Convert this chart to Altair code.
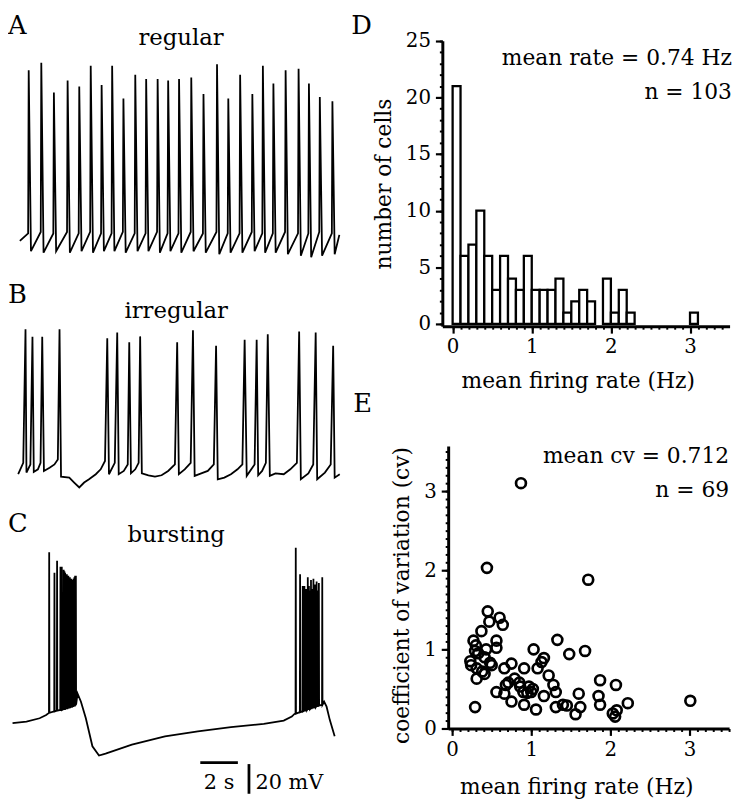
import altair as alt
import pandas as pd

FONT = "DejaVu Serif"

# ---------------- A: regular firing (time in s, voltage in mV) ----------------
A_spike_t = [0.47, 1.14, 1.81, 2.54, 3.16, 3.77, 4.35, 4.91, 5.51, 6.14, 6.72, 7.33, 7.89, 8.47,
             9.12, 9.77, 10.49, 11.09, 11.72, 12.37, 12.93, 13.49, 14.14, 14.83, 15.38, 15.96, 16.63]
A_spike_v = [111, 116, 96, 104, 100, 114, 101, 114, 92, 108, 105, 105, 104, 105,
             106, 95, 115, 92, 108, 95, 114, 102, 111, 112, 102, 93, 90]
A_pre_v = [1, 2, 1, 2, 1, 2, 1, 1, 2, 1, 1, 2, 1, 1, 2, 1, 2, 1, 1, 2, 1, 1, 2, 1, 1, 2, 1]
A_trough_v = [-11, -12, -11, -12, -11, -12, -11, -11, -12, -11, -11, -12, -11, -12,
              -11, -12, -13, -12, -12, -11, -12, -12, -13, -14, -15, -14, -13]
A_base_t = [0.0, 17.0]
A_base_v = [-4.0, 0.0]

# ---------------- B: irregular firing ----------------
B_spike_t = [0.30, 0.67, 1.19, 2.11, 4.65, 5.18, 5.82, 6.40, 8.37, 9.21, 10.44, 11.96, 12.60,
             13.19, 14.86, 15.74, 16.67]
B_spike_v = [94.4, 89.3, 89.3, 94.4, 88.4, 92.2, 85.6, 89.6, 85.6, 93.8, 83.3, 87.3, 87.3,
             91.1, 92.9, 92.2, 83.3]
B_base_t = [-0.09, 0.18, 0.35, 0.56, 0.74, 0.96, 1.10, 1.28, 1.58, 1.84, 2.02, 2.19, 2.63, 2.89,
            3.16, 3.42, 3.68, 4.04, 4.30, 4.53, 4.74, 5.05, 5.26, 5.53, 5.74, 5.91, 6.14, 6.32,
            6.49, 6.84, 7.19, 7.54, 7.89, 8.25, 8.46, 8.77, 9.09, 9.30, 9.65, 10.00, 10.32, 10.53,
            10.88, 11.23, 11.58, 11.84, 12.07, 12.49, 12.68, 12.89, 13.09, 13.30, 13.60, 14.04,
            14.39, 14.74, 14.95, 15.35, 15.61, 15.82, 16.23, 16.54, 16.75, 17.02]
B_base_v = [-3.3, 4.4, -2.2, 3.3, -1.8, 0, 4.4, -1.1, 1.1, 3.3, 6.7, -4.9, -5.6, -8.9,
            -12.2, -8.9, -6.7, -3.3, 0, 5.6, -3.3, 4.4, -3.3, -1.1, 3.3, -2.7, 0, 4.4,
            -2.7, -4, -4.9, -4, -1.1, 3.3, -3.3, 0, 4.4, -4.4, -2.7, -1.1, 3.3, -6.7,
            -5.6, -3.3, 0, 3.3, -4.4, 3.3, -4, -1.1, 4.4, -4.4, -2.7, -3.3,
            0, 4.4, -6.7, -2.7, 3.3, -6.7, -2.2, 3.3, -5.6, -3.3]

# ---------------- C: bursting ----------------
C_spike_t = [1.56, 1.84, 1.98, 2.16, 2.23, 2.33, 2.37, 2.41, 2.45, 2.50, 2.54, 2.58, 2.62, 2.66,
             2.70, 2.74, 2.78, 2.82, 2.86, 2.90, 2.94, 2.98,
             14.68, 14.91, 15.05, 15.14, 15.19, 15.23, 15.27, 15.32, 15.38, 15.43, 15.49, 15.53,
             15.57, 15.62, 15.66, 15.70, 15.74, 15.79, 15.83, 15.87, 15.91, 16.09]
C_spike_v = [110.7, 97, 105, 101, 101, 99, 98, 97, 96, 96, 95, 95, 94, 94,
             93, 93, 92, 92, 93, 94, 95, 95,
             113.8, 96, 88, 88, 85, 86, 84, 94, 88, 85, 92, 86,
             84, 93, 85, 89, 86, 91, 85, 84, 90, 94]
C_spike_base = [2.5, 3.5, 4, 4.5, 4.5, 5, 5, 5, 5.5, 5.5, 5.5, 6, 6, 6,
                6.5, 6.5, 6.5, 7, 7, 7.5, 7.5, 8,
                2, 3, 3.5, 4, 4, 4.5, 4.5, 5, 5, 5, 5.5, 5.5,
                6, 6, 6, 6.5, 6.5, 7, 7, 7, 7.5, 8]
C_base_t = [-0.39, 0.35, 1.05, 1.40, 3.07, 3.25, 3.51, 3.86, 4.21, 4.56, 5.96, 7.72, 9.47, 11.23,
            12.98, 14.04, 14.47, 14.61, 16.19, 16.32, 16.49, 16.75]
C_base_v = [-4.4, -3.3, -1.1, 1.1, 15.5, 10, -1.1, -20, -26.2, -24.9, -18.9, -13.3, -10, -7.1,
            -4.9, -2.7, 0, 1.8, 10, 6.7, -2.2, -13.3]

# scale bars (2 s, 20 mV)
SB_time_len = 2.0
SB_volt_len = 20.0
SB_time_start = 9.6
SB_volt_t = 12.19
SB_level = -31.0

# ---------------- D: histogram of mean firing rate ----------------
D_bin_lo = [0.0, 0.1, 0.2, 0.3, 0.4, 0.5, 0.6, 0.7, 0.8, 0.9, 1.0, 1.1, 1.2, 1.3, 1.4, 1.5,
            1.6, 1.7, 1.8, 1.9, 2.0, 2.1, 2.2, 3.0]
D_count = [21, 6, 7, 10, 6, 3, 6, 4, 3, 6, 3, 3, 3, 4, 1, 2, 3, 2, 0, 4, 1, 3, 1, 1]
D_bin_width = 0.1
D_y_major = [0, 5, 10, 15, 20, 25]
D_y_minor = list(range(0, 26))
D_x_major = [0, 1, 2, 3]
D_x_minor = [round(i * 0.1, 1) for i in range(0, 35)]

# ---------------- E: CV vs mean rate ----------------
E_rate = [0.45, 0.47, 0.60, 0.64, 0.37, 0.27, 0.56, 0.56, 0.43, 0.29, 0.23, 0.41, 0.31, 0.48, 0.41,
          0.31, 0.29, 1.33, 1.48, 1.68, 1.03, 1.16, 1.08, 0.75, 0.66, 0.91, 1.22, 0.79, 0.68, 0.86,
          0.97, 0.90, 1.00, 0.56, 0.66, 0.75, 0.91, 1.06, 1.16, 1.31, 1.31, 1.45, 1.60, 1.62, 1.56,
          1.87, 2.07, 1.85, 1.87, 2.03, 2.08, 2.22, 0.87, 0.44, 1.72, 3.01, 0.24, 0.33, 0.30, 0.50,
          0.38, 0.85, 0.95, 1.02, 1.28, 1.40, 2.06, 1.13, 0.71]
E_cv = [1.48, 1.35, 1.40, 1.31, 1.23, 1.11, 1.11, 1.02, 1.00, 0.98, 0.85, 0.90, 0.76, 0.83, 0.69,
        0.63, 0.27, 1.12, 0.94, 0.98, 1.00, 0.89, 0.76, 0.82, 0.76, 0.76, 0.67, 0.63, 0.55, 0.53,
        0.53, 0.46, 0.46, 0.46, 0.44, 0.34, 0.30, 0.24, 0.41, 0.46, 0.27, 0.29, 0.44, 0.27, 0.18,
        0.61, 0.55, 0.41, 0.30, 0.19, 0.23, 0.32, 3.10, 2.03, 1.88, 0.35, 0.80, 0.95, 1.05, 0.80,
        0.72, 0.58, 0.45, 0.50, 0.55, 0.30, 0.15, 0.84, 0.58]
E_major = [0, 1, 2, 3]
E_minor = [round(i * 0.1, 1) for i in range(0, 36)]

D_notes = ["mean rate = 0.74 Hz", "n = 103"]
E_notes = ["mean cv = 0.712", "n = 69"]


def build_trace(base_t, base_v, spk_t, spk_v, pre_v=None, post_v=None, d1=0.0, d2=0.0):
    pts = list(zip(base_t, base_v))
    for i, (t, v) in enumerate(zip(spk_t, spk_v)):
        pts.append((t, v))
        if pre_v is not None:
            pts.append((t - d1, pre_v[i]))
        if post_v is not None:
            pts.append((t + d2, post_v[i]))
    pts.sort()
    return pd.DataFrame({"t": [p[0] for p in pts], "v": [p[1] for p in pts], "i": range(len(pts))})


dfA = build_trace(A_base_t, A_base_v, A_spike_t, A_spike_v, A_pre_v, A_trough_v, 0.03, 0.12)
dfB = build_trace(B_base_t, B_base_v, B_spike_t, B_spike_v)
dfC = build_trace(C_base_t, C_base_v, C_spike_t, C_spike_v, C_spike_base, C_spike_base, 0.012, 0.012)

W, H = 737, 800
T_DOM, T_RNG = [-0.5, 17.2], [2.5, 338.8]


def trace_chart(df, ydom, yrng):
    return alt.Chart(df).mark_line(color="black", strokeWidth=1.8).encode(
        x=alt.X("t:Q", scale=alt.Scale(domain=T_DOM, range=T_RNG), axis=None),
        y=alt.Y("v:Q", scale=alt.Scale(domain=ydom, range=yrng), axis=None),
        order="i:Q",
    )


chartA = trace_chart(dfA, [-25, 120], [262.5, 45])
chartB = trace_chart(dfB, [-25, 120], [499.5, 282])

C_YDOM, C_YRNG = [-55, 120], [794.5, 532]
c_xs = alt.Scale(domain=T_DOM, range=T_RNG)
c_ys = alt.Scale(domain=C_YDOM, range=C_YRNG)
lineC = trace_chart(dfC, C_YDOM, C_YRNG)
sb_df = pd.DataFrame({
    "t": [SB_time_start, SB_volt_t],
    "t2": [SB_time_start + SB_time_len, SB_volt_t],
    "v": [SB_level, SB_level - 1],
    "v2": [SB_level, SB_level - 1 - SB_volt_len],
})
barsC = alt.Chart(sb_df).mark_rule(color="black", strokeWidth=2.8).encode(
    x=alt.X("t:Q", scale=c_xs, axis=None), x2="t2:Q",
    y=alt.Y("v:Q", scale=c_ys, axis=None), y2="v2:Q",
)
sbt_df = pd.DataFrame({"t": [SB_time_start + SB_time_len / 2], "v": [-48.7], "s": ["2 s"]})
sbv_df = pd.DataFrame({"t": [12.54], "v": [-48.7], "s": ["20 mV"]})
sbText1 = alt.Chart(sbt_df).mark_text(font=FONT, fontSize=21, align="center", baseline="alphabetic", color="black").encode(
    x=alt.X("t:Q", scale=c_xs, axis=None), y=alt.Y("v:Q", scale=c_ys, axis=None), text="s:N")
sbText2 = alt.Chart(sbv_df).mark_text(font=FONT, fontSize=21, align="left", baseline="alphabetic", color="black").encode(
    x=alt.X("t:Q", scale=c_xs, axis=None), y=alt.Y("v:Q", scale=c_ys, axis=None), text="s:N")
chartC = alt.layer(lineC, barsC, sbText1, sbText2)

axis_common = dict(grid=False, labelOverlap=False, labelFlush=False, domainColor="black",
                   tickColor="black", domainWidth=3, tickWidth=2.2, labelFont=FONT,
                   titleFont=FONT, labelFontSize=20, titleFontSize=22, titleFontWeight="normal",
                   labelColor="black", titleColor="black")
minor_common = dict(grid=False, labels=False, domain=False, title=None, tickColor="black",
                    tickWidth=2, tickSize=3)

# ---------------- D ----------------
d_xs = alt.Scale(domain=[-0.13, 3.5], range=[439.1, 729.5])
d_ys = alt.Scale(domain=[-0.2, 25], range=[317.3, 28.75])
dfD = pd.DataFrame({"lo": D_bin_lo, "n": D_count})
dfD = dfD[dfD["n"] > 0].copy()
dfD["hi"] = dfD["lo"] + D_bin_width
dfD["zero"] = 0

D_x_axis = alt.Axis(orient="bottom", offset=317.3 - H, values=D_x_major, tickSize=7,
                    labelPadding=4, title="mean firing rate (Hz)", titleX=576, titlePadding=14,
                    **axis_common)
D_y_axis = alt.Axis(orient="left", offset=-439.1, values=D_y_major, tickSize=7,
                    labelPadding=5, title="number of cells", titlePadding=10, **axis_common)
D_x_minor_axis = alt.Axis(orient="bottom", offset=317.3 - H, values=D_x_minor, **minor_common)
D_y_minor_axis = alt.Axis(orient="left", offset=-439.1, values=D_y_minor, **minor_common)

barsD = alt.Chart(dfD).mark_bar(fill="white", stroke="black", strokeWidth=2.3).encode(
    x=alt.X("lo:Q", scale=d_xs, axis=D_x_axis), x2="hi:Q",
    y=alt.Y("n:Q", scale=d_ys, axis=D_y_axis), y2="zero:Q",
)
dnote = pd.DataFrame({"x": [3.53, 3.53], "y": [22.9, 19.9], "s": D_notes})
textD = alt.Chart(dnote).mark_text(font=FONT, fontSize=22, align="right", baseline="alphabetic", color="black").encode(
    x=alt.X("x:Q", scale=d_xs, axis=D_x_minor_axis),
    y=alt.Y("y:Q", scale=d_ys, axis=D_y_minor_axis), text="s:N")
chartD = alt.layer(barsD, textD).resolve_axis(x="independent", y="independent")

# ---------------- E ----------------
e_xs = alt.Scale(domain=[-0.05, 3.5], range=[445, 729])
e_ys = alt.Scale(domain=[0, 3.57], range=[724, 438.4])
dfE = pd.DataFrame({"rate": E_rate, "cv": E_cv})
E_x_axis = alt.Axis(orient="bottom", offset=724 - H, values=E_major, tickSize=7,
                    labelPadding=4, title="mean firing rate (Hz)", titleX=574.5, titlePadding=18,
                    **axis_common)
E_y_axis = alt.Axis(orient="left", offset=-445, values=E_major, tickSize=7,
                    labelPadding=5, title="coefficient of variation (cv)", titleY=589,
                    titlePadding=10, **axis_common)
E_x_minor_axis = alt.Axis(orient="bottom", offset=724 - H, values=E_minor, **minor_common)
E_y_minor_axis = alt.Axis(orient="left", offset=-445, values=E_minor, **minor_common)

pointsE = alt.Chart(dfE).mark_point(shape="circle", filled=False, size=100, strokeWidth=2.7,
                                    color="black", opacity=1).encode(
    x=alt.X("rate:Q", scale=e_xs, axis=E_x_axis),
    y=alt.Y("cv:Q", scale=e_ys, axis=E_y_axis),
)
enote = pd.DataFrame({"x": [3.5, 3.5], "y": [3.36, 2.925], "s": E_notes})
textE = alt.Chart(enote).mark_text(font=FONT, fontSize=22, align="right", baseline="alphabetic", color="black").encode(
    x=alt.X("x:Q", scale=e_xs, axis=E_x_minor_axis),
    y=alt.Y("y:Q", scale=e_ys, axis=E_y_minor_axis), text="s:N")
chartE = alt.layer(pointsE, textE).resolve_axis(x="independent", y="independent")


# ---------------- panel letters and trace titles ----------------
def label(s, px, py, size, align="left"):
    return alt.Chart(pd.DataFrame({"s": [s]})).mark_text(
        font=FONT, fontSize=size, align=align, baseline="alphabetic", color="black"
    ).encode(text="s:N", x=alt.value(px), y=alt.value(py))


labels = [
    label("A", 0, 22, 26), label("B", 0, 294, 26), label("C", 0, 525, 26),
    label("D", 347, 22, 26), label("E", 349, 404, 26),
    label("regular", 175, 33, 23, "center"),
    label("irregular", 170, 309, 23, "center"),
    label("bursting", 170, 535, 23, "center"),
]

chart = alt.layer(chartA, chartB, chartC, chartD, chartE, *labels).resolve_scale(
    x="independent", y="independent"
).properties(
    width=W, height=H, padding=0, autosize=alt.AutoSizeParams(type="none")
).configure_view(stroke=None)

chart.save("out.html", embed_options={"renderer": "svg", "actions": False})
